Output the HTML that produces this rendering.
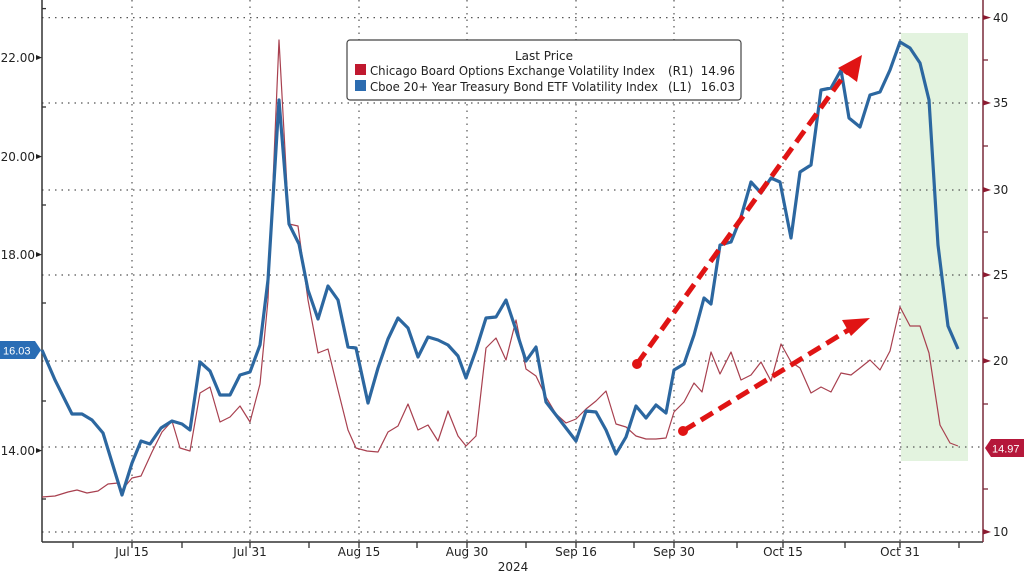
<!DOCTYPE html>
<html><head><meta charset="utf-8"><style>
html,body{margin:0;padding:0;background:#fff;}
svg{display:block;font-family:"DejaVu Sans","Liberation Sans",sans-serif;}
</style></head><body>
<svg width="1024" height="575" viewBox="0 0 1024 575" xmlns="http://www.w3.org/2000/svg">
<rect width="1024" height="575" fill="#fff"/>
<rect x="901" y="33" width="67" height="428" fill="#e3f3df"/>
<g stroke="#555" stroke-width="1.2" stroke-dasharray="1.5,5" fill="none">
<line x1="42" y1="17.6" x2="983" y2="17.6"/><line x1="42" y1="103" x2="983" y2="103"/>
<line x1="42" y1="190" x2="983" y2="190"/><line x1="42" y1="275" x2="983" y2="275"/>
<line x1="42" y1="361" x2="983" y2="361"/><line x1="42" y1="447" x2="983" y2="447"/>
<line x1="42" y1="532" x2="983" y2="532"/>
<line x1="132" y1="0" x2="132" y2="542"/><line x1="250" y1="0" x2="250" y2="542"/>
<line x1="359" y1="0" x2="359" y2="542"/><line x1="467" y1="0" x2="467" y2="542"/>
<line x1="576" y1="0" x2="576" y2="542"/><line x1="674" y1="0" x2="674" y2="542"/>
<line x1="783" y1="0" x2="783" y2="542"/><line x1="900" y1="0" x2="900" y2="542"/>
</g>
<line x1="42" y1="0" x2="42" y2="542" stroke="#333" stroke-width="1.5"/>
<line x1="42" y1="542" x2="983" y2="542" stroke="#333" stroke-width="1.5"/>
<line x1="983" y1="0" x2="983" y2="542" stroke="#7a2a3a" stroke-width="1.5"/>
<g stroke="#333" stroke-width="1.3">
<line x1="73" y1="542" x2="73" y2="548"/><line x1="132" y1="542" x2="132" y2="548"/><line x1="182" y1="542" x2="182" y2="548"/>
<line x1="250" y1="542" x2="250" y2="548"/><line x1="309" y1="542" x2="309" y2="548"/><line x1="359" y1="542" x2="359" y2="548"/>
<line x1="417" y1="542" x2="417" y2="548"/><line x1="467" y1="542" x2="467" y2="548"/><line x1="526" y1="542" x2="526" y2="548"/>
<line x1="576" y1="542" x2="576" y2="548"/><line x1="634" y1="542" x2="634" y2="548"/><line x1="674" y1="542" x2="674" y2="548"/>
<line x1="737" y1="542" x2="737" y2="548"/><line x1="783" y1="542" x2="783" y2="548"/><line x1="845" y1="542" x2="845" y2="548"/>
<line x1="900" y1="542" x2="900" y2="548"/><line x1="959" y1="542" x2="959" y2="548"/>
<line x1="42" y1="8.6" x2="46" y2="8.6"/><line x1="42" y1="107" x2="46" y2="107"/><line x1="42" y1="205" x2="46" y2="205"/>
<line x1="42" y1="303" x2="46" y2="303"/><line x1="42" y1="401" x2="46" y2="401"/><line x1="42" y1="499" x2="46" y2="499"/>
</g>
<g fill="#222"><polygon points="36,55 42,57.6 36,60"/><polygon points="36,154 42,156.6 36,159"/><polygon points="36,252 42,254.6 36,257"/><polygon points="36,448 42,450.6 36,453"/></g>
<g font-size="12" fill="#222" text-anchor="end">
<text x="35" y="62">22.00</text><text x="35" y="161">20.00</text><text x="35" y="259">18.00</text><text x="35" y="455">14.00</text>
</g>
<g stroke="#7a2a3a" stroke-width="1.3">
<line x1="983" y1="60" x2="988" y2="60"/><line x1="983" y1="146" x2="988" y2="146"/><line x1="983" y1="232" x2="988" y2="232"/>
<line x1="983" y1="318" x2="988" y2="318"/><line x1="983" y1="404" x2="988" y2="404"/><line x1="983" y1="489" x2="988" y2="489"/>
</g>
<g fill="#8b1a30"><polygon points="983,15 991,17.6 983,20"/><polygon points="983,100 991,103 983,105.5"/><polygon points="983,187 991,190 983,192.5"/><polygon points="983,272 991,275 983,277.5"/><polygon points="983,358 991,361 983,363.5"/><polygon points="983,529 991,532 983,534.5"/></g>
<g font-size="12" fill="#222">
<text x="993" y="22">40</text><text x="993" y="107">35</text><text x="993" y="194">30</text><text x="993" y="279">25</text><text x="993" y="365">20</text><text x="993" y="536">10</text>
</g>
<g font-size="12" fill="#222" text-anchor="middle">
<text x="132" y="556">Jul 15</text><text x="250" y="556">Jul 31</text><text x="359" y="556">Aug 15</text><text x="467" y="556">Aug 30</text>
<text x="576" y="556">Sep 16</text><text x="674" y="556">Sep 30</text><text x="783" y="556">Oct 15</text><text x="900" y="556">Oct 31</text>
<text x="513" y="571">2024</text>
</g>
<polyline fill="none" stroke="#a8404f" stroke-width="1.2" stroke-linejoin="round" points="42,497 55,496 68,492 77,490 87,493 98,491 108,484 118,483 122,490 132,478 141,476 152,452 162,432 172,421 180,448 190,451 200,393 210,387 220,422 230,417 240,406 250,422 260,384 268,300 279,40 289,224 298,226 308,300 318,353 328,349 338,390 348,430 356,448 367,451 378,452 388,432 398,426 408,404 418,430 428,425 438,441 448,411 458,436 466,446 476,436 486,348 496,338 506,360 516,320 526,369 536,376 546,397 556,414 566,423 576,419 586,409 596,401 606,391 616,424 626,427 636,436 646,439 656,439 666,438 674,412 684,402 694,383 702,392 711,352 720,374 731,352 741,380 751,375 761,362 771,381 781,344 791,362 800,368 811,393 821,387 831,392 841,373 851,375 860,368 870,360 880,370 890,351 900,307 910,326 920,326 929,353 940,425 950,443 958,446"/>
<polyline fill="none" stroke="#2c67a0" stroke-width="3.2" stroke-linejoin="round" points="42,350 55,380 72,414 82,414 92,420 103,433 122,495 132,463 141,441 150,444 161,428 172,421 182,424 190,430 200,362 210,371 220,395 230,395 240,375 250,372 260,345 268,280 279,100 289,224 299,244 308,290 318,319 328,286 338,300 348,347 356,348 368,403 378,368 388,339 398,318 408,328 418,357 428,337 438,340 448,345 458,356 466,378 476,350 486,318 496,317 506,300 516,330 526,361 536,347 546,402 556,415 566,428 576,441 586,411 596,412 606,430 616,454 626,437 636,406 646,418 656,405 666,413 674,370 684,364 694,335 704,298 711,304 720,245 731,242 741,217 751,182 761,193 771,178 780,182 791,238 800,172 811,165 821,90 831,88 841,70 849,118 860,127 870,95 880,92 890,70 900,42 910,48 920,63 929,100 938,245 948,326 958,349"/>
<g stroke="#e01414" stroke-width="5" stroke-dasharray="14,7" fill="none">
<line x1="637" y1="364" x2="848" y2="70"/><line x1="683" y1="431" x2="855" y2="326"/>
</g>
<g fill="#e01414">
<circle cx="637" cy="364" r="5"/><circle cx="683" cy="431" r="5"/>
<polygon points="862,55 857,82 838,68"/><polygon points="870,318 851,336 842,320"/>
</g>
<rect x="347" y="40" width="394" height="60" rx="3" fill="#fff" stroke="#444" stroke-width="1.2"/>
<g font-size="12" fill="#222">
<text x="544" y="60" text-anchor="middle">Last Price</text>
<rect x="355" y="64" width="11" height="11" fill="#c0182f"/>
<text x="370" y="75" textLength="285" lengthAdjust="spacingAndGlyphs">Chicago Board Options Exchange Volatility Index</text>
<text x="668" y="75">(R1)</text><text x="735" y="75" text-anchor="end">14.96</text>
<rect x="355" y="80" width="11" height="11" fill="#2c6cb0"/>
<text x="370" y="91" textLength="288" lengthAdjust="spacingAndGlyphs">Cboe 20+ Year Treasury Bond ETF Volatility Index</text>
<text x="668" y="91">(L1)</text><text x="735" y="91" text-anchor="end">16.03</text>
</g>
<polygon points="0,341 35,341 41,350 35,359 0,359" fill="#2a6db5"/>
<text x="3" y="354.5" font-size="11" font-family="Liberation Sans, sans-serif" fill="#fff">16.03</text>
<polygon points="991,439 1024,439 1024,457 991,457 985,448" fill="#b5173a"/>
<text x="992" y="452.5" font-size="11" font-family="Liberation Sans, sans-serif" fill="#fff">14.97</text>
</svg>
</body></html>
